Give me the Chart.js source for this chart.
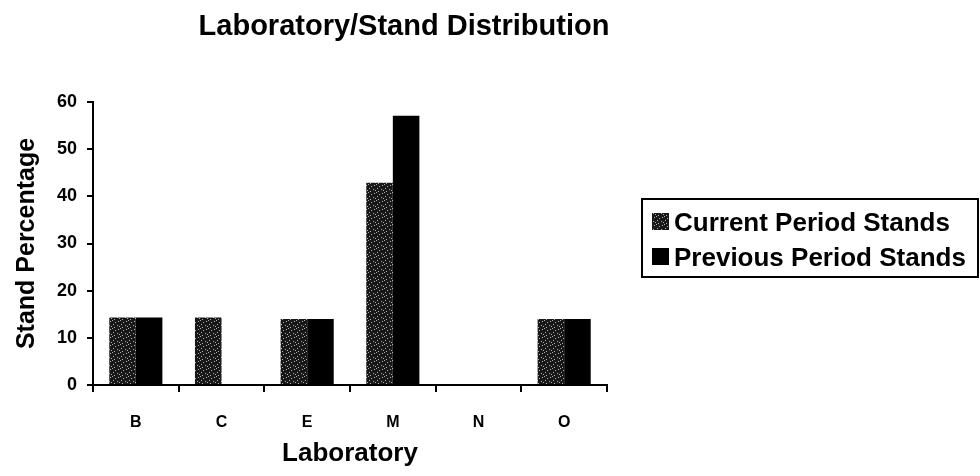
<!DOCTYPE html>
<html>
<head>
<meta charset="utf-8">
<script src="https://cdn.jsdelivr.net/npm/chart.js@4.4.1/dist/chart.umd.min.js"></script>
<style>
  html, body { margin: 0; padding: 0; background: #fff; }
  #wrap { width: 980px; height: 476px; }
</style>
</head>
<body>
<div id="wrap"><canvas id="c" width="980" height="476"></canvas></div>
<script>
const chartTitle = 'Laboratory/Stand Distribution';
const categories = ['B', 'C', 'E', 'M', 'N', 'O'];
const seriesNames = ['Current Period Stands', 'Previous Period Stands'];
const currentStands = [14.3, 14.3, 14.0, 42.9, 0, 14.0];
const previousStands = [14.3, 0, 14.0, 57.1, 0, 14.0];
const yMin = 0, yMax = 60, yStep = 10;

const FONT = '"Liberation Sans", Arial, Helvetica, sans-serif';

function makePattern() {
  const p = document.createElement('canvas');
  p.width = 8; p.height = 8;
  const g = p.getContext('2d');
  g.fillStyle = '#181818';
  g.fillRect(0, 0, 8, 8);
  g.fillStyle = '#b0b0b0';
  [[0,0],[3,2],[6,1],[1,4],[5,5],[2,7],[7,6]].forEach(([x,y]) => g.fillRect(x, y, 1, 1));
  return g.createPattern(p, 'repeat');
}
const dotted = makePattern();
const solid = '#000000';

const decor = {
  id: 'decor',
  afterDraw(chart) {
    const ctx = chart.ctx;
    ctx.save();
    // title
    ctx.fillStyle = '#000';
    ctx.font = 'bold 29px ' + FONT;
    ctx.textAlign = 'center';
    ctx.textBaseline = 'alphabetic';
    ctx.fillText(chartTitle, 404, 35);
    // legend box
    ctx.lineWidth = 2;
    ctx.strokeStyle = '#000';
    ctx.strokeRect(642, 199, 336, 78);
    const fills = [dotted, solid];
    const ys = [221, 256];
    ctx.font = 'bold 26px ' + FONT;
    ctx.textAlign = 'left';
    ctx.textBaseline = 'alphabetic';
    for (let i = 0; i < seriesNames.length; i++) {
      ctx.fillStyle = fills[i];
      ctx.fillRect(652, ys[i] - 8, 17, 17);
      ctx.fillStyle = '#000';
      ctx.fillText(seriesNames[i], 674, ys[i] + 9.5);
    }
    ctx.restore();
  }
};

new Chart(document.getElementById('c'), {
  type: 'bar',
  data: {
    labels: categories,
    datasets: [
      { label: seriesNames[0], data: currentStands, backgroundColor: dotted, borderWidth: 0 },
      { label: seriesNames[1], data: previousStands, backgroundColor: solid, borderWidth: 0 }
    ]
  },
  options: {
    responsive: false,
    animation: false,
    devicePixelRatio: 1,
    layout: { padding: { top: 102, right: 373, left: 0, bottom: 0 } },
    datasets: { bar: { categoryPercentage: 0.62, barPercentage: 1.0 } },
    plugins: {
      legend: { display: false },
      title: { display: false },
      tooltip: { enabled: false }
    },
    scales: {
      x: {
        afterFit(s) { s.height = 91; },
        grid: { display: true, drawOnChartArea: false, drawTicks: true, tickLength: 7, color: '#000', lineWidth: 2, offset: true },
        border: { display: true, color: '#000', width: 2 },
        ticks: { color: '#000', font: { family: FONT, size: 16, weight: 'bold' }, padding: 21 },
        title: { display: true, text: 'Laboratory', color: '#000', font: { family: FONT, size: 26, weight: 'bold' }, padding: { top: 0, bottom: 7 } }
      },
      y: {
        min: yMin, max: yMax,
        afterFit(s) { s.width = 93; },
        grid: { display: true, drawOnChartArea: false, drawTicks: true, tickLength: 6, color: '#000', lineWidth: 2 },
        border: { display: true, color: '#000', width: 2 },
        ticks: { stepSize: yStep, color: '#000', font: { family: FONT, size: 18, weight: 'bold' }, padding: 10 },
        title: { display: true, text: 'Stand Percentage', color: '#000', font: { family: FONT, size: 25, weight: 'bold' }, padding: { top: 12, bottom: 0 } }
      }
    }
  },
  plugins: [decor]
});
</script>
</body>
</html>
